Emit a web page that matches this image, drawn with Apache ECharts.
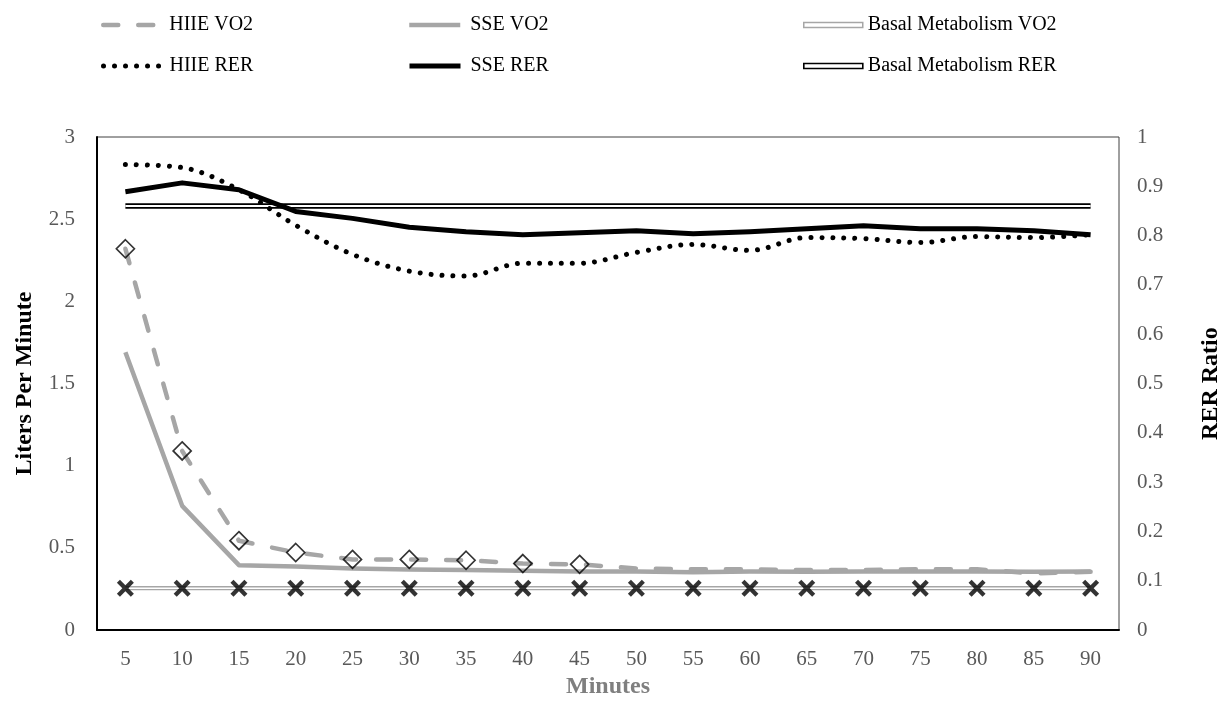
<!DOCTYPE html>
<html>
<head>
<meta charset="utf-8">
<script src="https://cdn.jsdelivr.net/npm/echarts@6/dist/echarts.min.js"></script>
<style>
html,body{margin:0;padding:0;background:#fff;}
#chart{width:1231px;height:704px;}
</style>
</head>
<body>
<div id="chart"></div>
<script>
// ---- data ----
const minutes = ['5','10','15','20','25','30','35','40','45','50','55','60','65','70','75','80','85','90'];
const hiieVO2 = [2.32,1.09,0.544,0.472,0.43,0.43,0.425,0.405,0.40,0.375,0.37,0.37,0.365,0.365,0.37,0.37,0.345,0.355];
const hiieVO2Markers = [2.32,1.09,0.544,0.472,0.43,0.43,0.425,0.405,0.40];
const sseVO2 = [1.69,0.756,0.395,0.387,0.375,0.369,0.365,0.361,0.357,0.357,0.352,0.357,0.355,0.357,0.357,0.357,0.355,0.357];
const basalVO2 = [0.255,0.255,0.255,0.255,0.255,0.255,0.255,0.255,0.255,0.255,0.255,0.255,0.255,0.255,0.255,0.255,0.255,0.255];
const hiieRER = [0.944,0.938,0.893,0.821,0.762,0.728,0.718,0.744,0.744,0.766,0.782,0.770,0.796,0.794,0.786,0.798,0.796,0.802];
const sseRER = [0.889,0.907,0.893,0.849,0.835,0.817,0.808,0.802,0.806,0.810,0.804,0.808,0.814,0.820,0.814,0.814,0.810,0.802];
const basalRER = [0.86,0.86,0.86,0.86,0.86,0.86,0.86,0.86,0.86,0.86,0.86,0.86,0.86,0.86,0.86,0.86,0.86,0.86];
const leftTicks = {min:0, max:3, interval:0.5};
const rightTicks = {min:0, max:1, interval:0.1};

const FONT = 'Liberation Serif';
const GRAY = '#a6a6a6';
const xPath = 'path://M0,18L18,0L50,32L82,0L100,18L68,50L100,82L82,100L50,68L18,100L0,82L32,50Z';
const noSymbol = {color: 'rgba(0,0,0,0)', borderWidth: 0, opacity: 0};

function legend(name, left, top, itemWidth, extra) {
  return Object.assign({
    data: [name], left: left, top: top, padding: 0,
    itemWidth: itemWidth, itemHeight: 14, selectedMode: false,
    itemStyle: noSymbol,
    textStyle: {fontFamily: FONT, fontSize: 20, color: '#000', padding: [0,0,0,5]}
  }, extra || {});
}

const option = {
  animation: false,
  backgroundColor: '#fff',
  legend: [
    legend('HIIE VO2', 101, 15, 56, {lineStyle: {width: 4.5}}),
    legend('SSE VO2', 407, 15, 51, {lineStyle: {width: 4.5}}),
    legend('Basal Metabolism VO2', 803, 15, 59, {
      data: [{name: 'Basal Metabolism VO2', icon: 'rect', itemStyle: {color: '#fff', borderColor: GRAY, borderWidth: 1.5, opacity: 1}}],
      itemHeight: 5, textStyle: {fontFamily: FONT, fontSize: 20, color: '#000', padding: [0,0,0,0]}}),
    legend('HIIE RER', 101, 56, 56, {lineStyle: {width: 5}}),
    legend('SSE RER', 407, 56, 51, {lineStyle: {width: 5}}),
    legend('Basal Metabolism RER', 803, 56, 59, {
      data: [{name: 'Basal Metabolism RER', icon: 'rect', itemStyle: {color: '#fff', borderColor: '#000', borderWidth: 1.6, opacity: 1}}],
      itemHeight: 5, textStyle: {fontFamily: FONT, fontSize: 20, color: '#000', padding: [0,0,0,0]}})
  ],
  grid: {left: 97, right: 111, top: 137, bottom: 71, show: true, borderColor: '#404040', borderWidth: 1},
  xAxis: {
    type: 'category', data: minutes, boundaryGap: true,
    name: 'Minutes', nameLocation: 'middle', nameGap: 44,
    nameTextStyle: {fontFamily: FONT, fontSize: 24, fontWeight: 'bold', color: '#7f7f7f'},
    axisLine: {lineStyle: {color: '#000', width: 2}},
    axisTick: {show: false},
    axisLabel: {fontFamily: FONT, fontSize: 21, color: '#595959', margin: 19}
  },
  yAxis: [
    {
      type: 'value', min: leftTicks.min, max: leftTicks.max, interval: leftTicks.interval,
      name: 'Liters Per Minute', nameLocation: 'middle', nameGap: 60, nameRotate: 90,
      nameTextStyle: {fontFamily: FONT, fontSize: 24, fontWeight: 'bold', color: '#000'},
      axisLine: {show: true, lineStyle: {color: '#000', width: 2}},
      axisTick: {show: false}, splitLine: {show: false},
      axisLabel: {fontFamily: FONT, fontSize: 21, color: '#595959', margin: 22}
    },
    {
      type: 'value', position: 'right', min: rightTicks.min, max: rightTicks.max, interval: rightTicks.interval,
      name: 'RER Ratio', nameLocation: 'middle', nameGap: 80, nameRotate: 90,
      nameTextStyle: {fontFamily: FONT, fontSize: 24, fontWeight: 'bold', color: '#000'},
      axisLine: {show: false},
      axisTick: {show: false}, splitLine: {show: false},
      axisLabel: {fontFamily: FONT, fontSize: 21, color: '#595959', margin: 18}
    }
  ],
  series: [
    {name: 'Basal Metabolism VO2', type: 'line', yAxisIndex: 0, data: basalVO2, symbol: 'none', z: 2,
     itemStyle: {color: GRAY}, lineStyle: {color: GRAY, width: 4.2}},
    {name: 'basalVO2-inner', type: 'line', yAxisIndex: 0, data: basalVO2, symbol: 'none', z: 3,
     itemStyle: {color: '#fff'}, lineStyle: {color: '#fff', width: 1.6}},
    {name: 'SSE VO2', type: 'line', yAxisIndex: 0, data: sseVO2, symbol: 'none', z: 3,
     itemStyle: {color: GRAY}, lineStyle: {color: GRAY, width: 4.5, join: 'round'}},
    {name: 'HIIE VO2', type: 'line', yAxisIndex: 0, data: hiieVO2, symbol: 'none', z: 4,
     itemStyle: {color: GRAY}, lineStyle: {color: GRAY, width: 4.5, type: [15, 20], cap: 'round', join: 'round'}},
    {name: 'HIIE VO2 markers', type: 'scatter', yAxisIndex: 0, data: hiieVO2Markers, symbol: 'diamond', symbolSize: 18, z: 5,
     itemStyle: {color: 'rgba(0,0,0,0)', borderColor: '#000', borderWidth: 1.7}},
    {name: 'Basal VO2 markers', type: 'scatter', yAxisIndex: 0, data: basalVO2, symbol: xPath, symbolSize: 17, z: 6,
     itemStyle: {color: '#000'}},
    {name: 'Basal Metabolism RER', type: 'line', yAxisIndex: 1, data: basalRER, symbol: 'none', z: 2,
     itemStyle: {color: '#000'}, lineStyle: {color: '#000', width: 5.4}},
    {name: 'basalRER-inner', type: 'line', yAxisIndex: 1, data: basalRER, symbol: 'none', z: 3,
     itemStyle: {color: '#fff'}, lineStyle: {color: '#fff', width: 2}},
    {name: 'HIIE RER', type: 'line', yAxisIndex: 1, data: hiieRER, symbol: 'none', smooth: 0.35, z: 7,
     itemStyle: {color: '#000'}, lineStyle: {color: '#000', width: 5, type: [0.01, 11], cap: 'round'}},
    {name: 'SSE RER', type: 'line', yAxisIndex: 1, data: sseRER, symbol: 'none', z: 7,
     itemStyle: {color: '#000'}, lineStyle: {color: '#000', width: 5, join: 'round'}}
  ]
};

const chart = echarts.init(document.getElementById('chart'), null, {renderer: 'canvas'});
chart.setOption(option);
</script>
</body>
</html>
